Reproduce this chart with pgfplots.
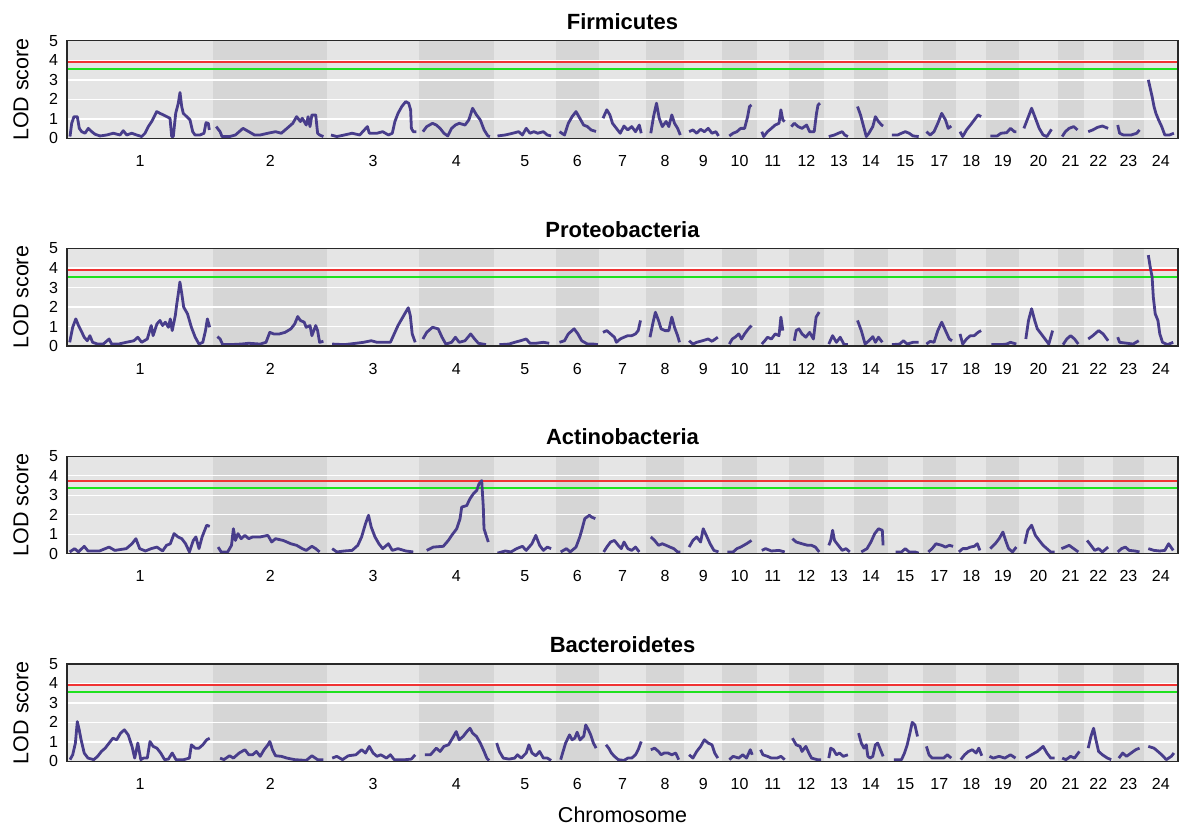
\documentclass[border=0pt]{standalone}
\usepackage{fontspec}
\setmainfont{Liberation Sans}
\usepackage{pgfplots}
\usepackage{pgfplotstable}
\pgfplotsset{compat=1.18}

\definecolor{bglight}{RGB}{229,229,229}
\definecolor{bgdark}{RGB}{214,214,214}
\definecolor{lodcol}{RGB}{72,61,139}
\definecolor{thrred}{RGB}{240,50,50}
\definecolor{thrgreen}{RGB}{30,225,30}
\definecolor{framecol}{RGB}{40,40,40}

% x positions are in the chart's own map units (chromosomes laid side by side)
\pgfplotstableread{
x y
70.0 0.09
71.7 0.77
74.0 1.11
77.3 1.11
79.3 0.51
81.7 0.34
85.0 0.26
88.3 0.51
91.7 0.34
95.0 0.21
100.0 0.12
106.7 0.17
113.3 0.26
120.0 0.17
123.3 0.39
126.7 0.17
131.7 0.26
136.7 0.17
141.7 0.09
145.0 0.26
148.3 0.60
151.7 0.86
155.0 1.20
156.7 1.37
160.0 1.28
163.3 1.20
166.7 1.11
170.0 1.03
171.7 0.09
173.3 0.09
175.7 1.28
178.3 1.80
180.0 2.35
181.7 1.63
183.3 1.28
186.7 1.11
190.0 0.94
192.7 0.34
195.0 0.17
200.0 0.17
204.0 0.26
206.0 0.80
208.3 0.77
209.3 0.43
nan nan
216.2 0.60
220.1 0.34
222.0 0.09
229.6 0.09
235.4 0.17
243.0 0.51
248.8 0.34
254.5 0.17
260.2 0.17
267.9 0.26
275.5 0.34
281.3 0.26
287.0 0.51
292.8 0.77
296.6 1.11
300.4 0.86
302.3 1.03
306.2 0.68
308.1 1.11
310.0 0.60
311.9 1.20
315.7 1.20
317.6 0.26
319.6 0.17
323.4 0.09
nan nan
331.0 0.17
336.8 0.09
344.4 0.17
352.1 0.26
359.7 0.17
367.4 0.60
369.3 0.26
377.0 0.26
382.7 0.34
388.4 0.17
392.3 0.26
394.9 0.86
398.0 1.28
401.8 1.63
405.7 1.88
408.7 1.80
410.6 1.46
411.4 0.51
413.3 0.34
416.4 0.34
nan nan
422.9 0.34
426.7 0.60
432.5 0.77
436.3 0.68
440.1 0.51
443.9 0.26
447.8 0.12
451.6 0.51
455.4 0.68
459.2 0.77
465.0 0.68
468.8 0.94
472.6 1.54
476.5 1.20
480.3 0.94
484.1 0.43
487.9 0.12
489.9 0.09
nan nan
497.5 0.12
505.2 0.17
512.8 0.26
518.6 0.34
522.4 0.17
526.2 0.51
530.0 0.26
533.9 0.34
537.7 0.26
543.4 0.34
547.3 0.17
551.1 0.12
nan nan
559.5 0.34
564.5 0.17
568.3 0.77
572.1 1.11
576.0 1.37
579.8 1.03
583.6 0.68
587.5 0.60
591.0 0.43
596.0 0.35
nan nan
603.0 1.03
606.8 1.46
609.9 1.20
612.5 0.77
616.4 0.51
620.2 0.26
624.0 0.63
627.8 0.43
631.7 0.60
635.5 0.34
639.3 0.68
641.2 0.26
nan nan
650.8 0.26
653.5 1.11
656.5 1.80
659.2 1.03
662.3 0.60
666.1 0.86
668.8 0.60
671.8 1.20
674.5 0.77
677.6 0.51
680.3 0.17
nan nan
689.1 0.34
692.9 0.43
696.7 0.26
700.6 0.46
704.4 0.34
708.2 0.51
712.0 0.26
715.9 0.34
718.5 0.12
nan nan
729.3 0.12
733.1 0.26
736.9 0.34
740.7 0.51
744.6 0.51
747.6 1.11
749.5 1.63
751.5 1.71
nan nan
761.8 0.34
763.7 0.09
767.5 0.34
771.4 0.51
775.2 0.68
779.0 0.77
780.9 1.46
782.8 0.94
784.7 0.86
nan nan
791.3 0.60
794.3 0.77
798.1 0.60
802.0 0.51
806.6 0.68
809.6 0.34
814.2 0.34
816.5 1.28
818.0 1.71
820.0 1.80
nan nan
828.8 0.09
834.5 0.17
838.3 0.26
842.2 0.34
844.8 0.17
847.9 0.09
nan nan
857.5 1.63
860.5 1.20
863.2 0.68
866.3 0.09
868.9 0.26
872.8 0.60
875.4 1.11
878.5 0.86
881.6 0.68
883.1 0.63
nan nan
891.9 0.17
897.6 0.17
901.5 0.26
905.3 0.34
909.1 0.26
913.0 0.12
918.7 0.09
nan nan
926.4 0.34
930.2 0.17
934.0 0.34
937.8 0.77
941.7 1.28
945.5 0.94
948.2 0.51
951.2 0.63
nan nan
960.0 0.34
962.7 0.09
966.5 0.43
970.4 0.68
974.2 0.94
978.0 1.20
981.1 1.11
nan nan
990.3 0.12
997.1 0.12
1001.0 0.26
1006.7 0.29
1010.5 0.51
1014.4 0.34
1016.3 0.34
nan nan
1023.9 0.51
1027.8 1.03
1031.6 1.54
1035.4 1.03
1039.2 0.51
1043.1 0.17
1046.9 0.09
1051.5 0.46
nan nan
1062.2 0.09
1065.3 0.34
1069.1 0.51
1073.7 0.60
1077.5 0.43
nan nan
1088.2 0.34
1092.8 0.43
1097.4 0.56
1102.4 0.63
1108.1 0.51
nan nan
1117.7 0.68
1119.6 0.26
1123.4 0.17
1131.1 0.17
1136.8 0.26
1139.5 0.43
nan nan
1148.3 3.00
1150.2 2.57
1152.1 2.14
1154.0 1.63
1155.9 1.28
1158.6 0.94
1161.7 0.60
1164.8 0.17
1169.4 0.17
1173.9 0.26
}\firm

\pgfplotstableread{
x y
69.7 0.19
72.7 0.96
75.8 1.39
78.5 1.05
81.1 0.79
84.2 0.45
87.3 0.27
89.9 0.53
92.6 0.19
97.6 0.10
103.3 0.10
109.1 0.36
111.7 0.10
118.6 0.10
126.3 0.19
133.9 0.27
137.8 0.45
141.6 0.19
147.3 0.36
151.2 1.05
153.1 0.53
156.9 1.13
160.0 1.31
162.6 1.05
165.3 1.22
168.4 0.96
170.3 1.39
172.2 0.79
175.3 1.56
176.8 2.16
178.3 2.68
179.9 3.28
181.8 2.68
183.7 1.99
187.5 1.65
191.4 0.96
195.2 0.45
199.0 0.10
202.8 0.19
205.5 0.79
207.4 1.39
209.7 0.96
nan nan
217.4 0.48
220.1 0.36
222.7 0.07
229.6 0.07
241.1 0.10
248.8 0.14
260.2 0.10
266.0 0.19
269.8 0.70
273.6 0.62
279.4 0.62
285.1 0.70
290.9 0.88
294.7 1.13
297.7 1.51
300.4 1.31
304.2 1.22
306.2 0.96
310.0 1.05
311.9 0.53
315.7 1.05
317.6 0.79
319.6 0.19
323.4 0.24
nan nan
332.2 0.10
344.4 0.07
355.9 0.14
363.6 0.19
371.2 0.27
377.0 0.19
382.7 0.19
390.4 0.19
394.2 0.62
398.0 1.05
401.8 1.39
405.7 1.74
408.3 1.96
410.3 1.56
412.2 0.62
415.2 0.19
nan nan
422.9 0.36
426.7 0.70
432.5 0.96
438.2 0.88
442.0 0.45
445.8 0.10
451.6 0.19
455.4 0.45
459.2 0.19
465.0 0.27
470.7 0.62
474.6 0.36
478.4 0.14
486.0 0.07
nan nan
499.4 0.07
509.0 0.10
514.7 0.19
520.5 0.27
526.2 0.36
530.0 0.14
535.8 0.14
543.4 0.19
549.2 0.14
nan nan
559.5 0.19
564.5 0.27
568.3 0.62
574.1 0.88
577.9 0.62
581.7 0.27
587.5 0.10
593.2 0.10
597.8 0.07
nan nan
603.0 0.70
606.8 0.79
610.6 0.62
614.4 0.45
616.4 0.19
620.2 0.36
624.0 0.45
627.8 0.53
631.7 0.53
635.5 0.62
638.2 0.79
640.5 1.31
nan nan
650.0 0.45
652.7 1.13
655.4 1.73
658.5 1.31
661.1 0.88
665.0 0.79
668.8 0.79
671.8 1.48
674.5 0.96
677.6 0.53
679.5 0.19
nan nan
689.1 0.27
692.9 0.10
696.7 0.19
702.5 0.27
708.2 0.36
712.0 0.24
717.8 0.45
nan nan
729.3 0.10
732.3 0.36
735.0 0.45
738.8 0.62
741.5 0.36
744.6 0.62
748.4 0.88
751.5 1.05
nan nan
761.8 0.10
764.8 0.27
767.5 0.45
771.4 0.36
775.2 0.62
779.0 0.53
780.9 1.48
782.8 0.79
nan nan
794.3 0.27
796.2 0.79
798.9 0.88
802.0 0.62
805.8 0.45
809.6 0.70
813.4 0.36
816.1 1.48
819.2 1.74
nan nan
828.8 0.10
832.6 0.53
836.4 0.19
840.2 0.45
844.1 0.07
847.9 0.07
nan nan
857.5 1.31
861.3 0.79
865.1 0.10
868.9 0.27
872.8 0.48
875.4 0.19
878.5 0.45
882.3 0.19
nan nan
891.9 0.07
899.6 0.10
903.4 0.27
907.2 0.10
913.0 0.19
918.7 0.19
nan nan
926.4 0.10
930.2 0.24
934.0 0.19
937.8 0.79
941.7 1.22
945.5 0.79
949.3 0.36
952.0 0.27
nan nan
960.0 0.62
962.7 0.10
966.5 0.36
970.4 0.53
974.2 0.53
978.0 0.70
981.1 0.79
nan nan
991.4 0.07
1001.0 0.07
1006.7 0.10
1010.5 0.19
1016.3 0.10
nan nan
1025.8 0.36
1028.5 1.31
1031.6 1.91
1034.7 1.31
1037.3 0.88
1041.2 0.62
1045.0 0.36
1048.8 0.10
1052.6 0.79
nan nan
1063.0 0.07
1066.8 0.36
1070.6 0.53
1074.5 0.36
1078.3 0.10
nan nan
1088.2 0.36
1092.8 0.53
1098.6 0.79
1103.1 0.62
1108.1 0.27
nan nan
1117.7 0.45
1119.6 0.19
1127.3 0.14
1133.0 0.10
1138.7 0.27
nan nan
1148.3 4.66
1150.2 4.05
1152.1 3.54
1153.3 2.51
1155.2 1.65
1157.9 1.31
1159.8 0.62
1162.5 0.19
1167.5 0.07
1173.2 0.19
}\proteo

\pgfplotstableread{
x y
69.7 0.09
74.6 0.26
78.5 0.09
84.2 0.38
88.0 0.14
99.5 0.14
109.1 0.34
114.8 0.17
126.3 0.26
132.0 0.51
135.9 0.77
139.7 0.26
145.4 0.14
151.2 0.26
156.9 0.34
162.6 0.14
166.5 0.43
170.3 0.51
174.1 1.03
178.0 0.86
181.8 0.77
185.6 0.51
189.4 0.09
193.3 0.68
195.9 0.86
199.0 0.26
202.1 0.86
204.7 1.20
206.7 1.46
209.7 1.40
nan nan
218.1 0.34
221.2 0.09
227.7 0.09
231.5 0.43
233.4 1.28
235.4 0.68
238.0 1.03
241.1 0.77
244.9 0.94
248.8 0.77
252.6 0.86
260.2 0.86
267.9 0.94
271.7 0.60
275.5 0.77
283.2 0.68
290.9 0.51
296.6 0.43
302.3 0.26
306.2 0.17
311.9 0.38
315.7 0.26
319.6 0.09
nan nan
332.2 0.26
336.8 0.09
344.4 0.14
352.1 0.17
357.8 0.43
361.6 0.86
365.5 1.54
368.5 1.97
371.2 1.37
375.0 0.86
378.9 0.51
382.7 0.26
388.4 0.51
392.3 0.17
398.0 0.26
405.7 0.14
413.3 0.09
nan nan
426.7 0.17
433.3 0.34
443.3 0.38
448.3 0.68
451.7 0.94
456.7 1.28
460.0 1.79
461.7 2.39
466.7 2.47
470.0 2.82
473.3 3.07
476.7 3.24
479.0 3.58
481.7 3.75
483.3 2.39
484.0 1.28
486.7 0.85
488.3 0.60
nan nan
497.5 0.03
505.2 0.14
510.9 0.09
516.6 0.26
522.4 0.38
526.2 0.17
531.9 0.51
535.8 0.94
539.6 0.43
543.4 0.17
547.3 0.34
551.1 0.26
nan nan
560.7 0.09
566.4 0.26
570.2 0.09
576.0 0.34
579.8 0.86
581.7 1.20
584.8 1.80
589.4 1.97
591.5 1.88
595.3 1.80
nan nan
603.7 0.09
606.8 0.34
610.6 0.60
614.4 0.68
618.3 0.43
621.3 0.26
624.0 0.60
627.8 0.26
631.7 0.17
635.5 0.34
639.3 0.09
nan nan
650.8 0.86
654.6 0.68
658.5 0.43
662.3 0.51
666.1 0.43
670.0 0.34
673.8 0.26
677.6 0.09
680.3 0.09
nan nan
689.1 0.34
692.9 0.68
696.7 0.86
700.6 0.60
703.2 1.28
706.3 0.94
710.1 0.51
713.9 0.17
718.5 0.09
nan nan
727.3 0.09
733.1 0.09
736.9 0.26
740.7 0.34
746.5 0.51
751.5 0.68
nan nan
761.8 0.17
765.6 0.26
771.4 0.14
779.0 0.17
784.7 0.09
nan nan
792.4 0.77
796.2 0.60
802.0 0.51
807.7 0.43
811.5 0.43
815.4 0.34
819.2 0.09
nan nan
828.8 0.43
830.7 0.68
832.6 1.20
834.5 0.68
838.3 0.43
842.2 0.17
846.0 0.26
849.8 0.09
nan nan
861.3 0.09
867.0 0.26
870.9 0.60
874.7 1.03
878.5 1.28
882.3 1.20
883.1 0.43
nan nan
895.7 0.09
901.5 0.09
905.3 0.26
909.1 0.09
914.9 0.09
918.7 0.03
nan nan
928.3 0.09
932.1 0.26
935.9 0.51
941.7 0.43
945.5 0.34
949.3 0.43
953.1 0.38
nan nan
958.9 0.09
962.7 0.26
966.5 0.26
970.4 0.34
974.2 0.38
977.3 0.51
979.9 0.17
nan nan
990.3 0.26
995.2 0.51
999.1 0.77
1002.9 1.11
1005.6 0.68
1008.6 0.26
1012.5 0.09
1016.3 0.34
nan nan
1024.7 0.51
1027.8 1.20
1031.6 1.46
1035.4 0.94
1039.2 0.68
1043.1 0.43
1046.9 0.26
1050.7 0.09
1054.6 0.09
nan nan
1061.4 0.26
1065.3 0.34
1069.1 0.43
1073.7 0.26
1078.3 0.09
nan nan
1087.1 0.68
1090.9 0.43
1094.7 0.17
1098.6 0.26
1102.4 0.09
1108.1 0.34
nan nan
1117.7 0.09
1121.5 0.26
1125.4 0.34
1129.2 0.17
1134.9 0.14
1139.5 0.09
nan nan
1148.3 0.26
1154.0 0.17
1159.8 0.14
1164.8 0.17
1168.6 0.51
1173.2 0.17
}\actino

\pgfplotstableread{
x y
70.0 0.09
72.7 0.34
75.4 0.94
77.3 2.04
79.2 1.62
81.1 1.11
84.2 0.43
88.0 0.17
93.8 0.09
97.6 0.26
101.4 0.51
105.2 0.68
109.1 0.94
112.9 1.19
116.7 1.11
120.6 1.45
124.4 1.62
128.2 1.36
132.0 0.77
134.7 0.17
137.8 0.94
140.8 0.09
143.5 0.17
147.3 0.17
150.0 1.02
153.1 0.77
156.9 0.68
160.7 0.43
164.6 0.09
168.4 0.12
172.2 0.43
176.0 0.09
183.7 0.09
189.4 0.17
191.4 0.85
195.2 0.68
199.0 0.68
202.8 0.85
206.7 1.11
209.7 1.19
nan nan
220.1 0.17
223.9 0.09
229.6 0.29
233.4 0.17
239.2 0.43
244.9 0.60
248.8 0.34
252.6 0.34
256.4 0.51
260.2 0.26
264.1 0.60
267.9 0.85
269.8 1.02
272.5 0.60
275.5 0.29
281.3 0.26
287.0 0.17
294.7 0.09
306.2 0.05
311.9 0.29
317.6 0.09
323.4 0.09
nan nan
332.2 0.17
336.8 0.26
342.5 0.09
348.3 0.29
355.9 0.34
361.6 0.60
365.5 0.43
369.3 0.77
373.1 0.43
377.0 0.26
380.8 0.34
386.5 0.17
390.4 0.34
394.2 0.09
405.7 0.09
411.4 0.12
415.2 0.34
nan nan
424.8 0.34
430.5 0.34
436.3 0.68
440.1 0.51
443.9 0.77
448.5 0.85
453.5 1.28
456.2 1.53
459.2 1.11
463.1 1.28
466.9 1.53
470.0 1.70
472.6 1.45
476.5 1.28
480.3 0.94
484.1 0.51
486.8 0.17
489.1 0.05
nan nan
496.7 0.94
499.4 0.51
503.3 0.17
509.0 0.12
514.7 0.17
517.4 0.34
521.2 0.17
526.2 0.43
528.9 0.85
532.0 0.43
535.8 0.29
539.6 0.51
543.4 0.17
547.3 0.17
551.1 0.05
nan nan
560.7 0.09
562.6 0.43
565.6 0.94
569.5 1.36
572.1 1.11
574.8 1.19
577.1 1.50
580.0 1.10
583.8 1.30
585.7 1.87
588.4 1.62
590.7 1.36
593.4 0.94
596.1 0.68
nan nan
606.0 0.85
608.7 0.68
611.4 0.43
614.4 0.26
618.3 0.09
624.0 0.05
627.8 0.17
631.7 0.17
635.5 0.34
638.2 0.60
641.2 1.02
nan nan
650.8 0.60
654.6 0.68
658.5 0.51
661.1 0.34
664.2 0.43
668.0 0.43
671.8 0.34
675.7 0.43
678.7 0.09
nan nan
689.1 0.34
692.9 0.17
696.7 0.51
700.6 0.77
704.4 1.11
708.2 0.94
712.0 0.85
714.7 0.43
717.8 0.17
nan nan
729.3 0.09
733.1 0.26
738.8 0.17
742.7 0.34
746.5 0.17
750.3 0.60
752.2 0.34
nan nan
760.6 0.60
762.9 0.34
767.5 0.26
771.4 0.17
777.1 0.17
780.9 0.26
784.7 0.09
nan nan
792.4 1.19
796.2 0.85
800.1 0.77
802.0 0.51
805.8 0.77
808.9 0.43
811.5 0.17
817.3 0.09
821.1 0.09
nan nan
828.8 0.17
830.7 0.68
833.4 0.60
836.4 0.34
839.5 0.43
843.3 0.26
847.9 0.34
nan nan
858.6 1.45
861.3 0.94
864.0 0.68
866.3 0.85
867.8 0.26
870.1 0.17
872.8 0.26
875.4 0.85
877.7 0.94
880.4 0.60
883.1 0.26
nan nan
893.8 0.09
901.5 0.09
904.5 0.43
907.2 0.85
909.9 1.45
912.2 2.00
914.9 1.87
917.5 1.28
nan nan
926.4 0.77
929.0 0.34
932.1 0.17
937.8 0.17
943.6 0.17
947.4 0.34
951.2 0.17
nan nan
960.8 0.09
964.6 0.34
968.4 0.51
972.3 0.60
976.1 0.43
978.8 0.68
981.8 0.29
nan nan
989.5 0.26
993.3 0.17
999.1 0.26
1004.8 0.17
1010.5 0.34
1015.5 0.17
nan nan
1025.8 0.17
1031.6 0.34
1037.3 0.51
1043.1 0.77
1046.9 0.43
1050.7 0.17
1054.6 0.17
nan nan
1062.2 0.17
1066.0 0.09
1070.6 0.26
1074.5 0.17
1079.4 0.51
nan nan
1088.2 0.68
1090.9 1.28
1093.6 1.70
1095.9 1.11
1098.6 0.51
1102.4 0.34
1107.4 0.17
1111.2 0.09
nan nan
1118.8 0.17
1122.7 0.43
1126.5 0.26
1131.1 0.43
1135.7 0.60
1139.5 0.68
nan nan
1148.3 0.77
1154.0 0.68
1157.9 0.51
1161.7 0.34
1166.3 0.09
1171.3 0.26
1173.9 0.43
}\bactero

\newcommand{\bgrects}{%
  \fill[bgdark] (axis cs:213.2,0) rectangle (axis cs:327.2,5);
  \fill[bgdark] (axis cs:419.1,0) rectangle (axis cs:493.7,5);
  \fill[bgdark] (axis cs:555.7,0) rectangle (axis cs:599.1,5);
  \fill[bgdark] (axis cs:645.8,0) rectangle (axis cs:684.1,5);
  \fill[bgdark] (axis cs:722.4,0) rectangle (axis cs:756.8,5);
  \fill[bgdark] (axis cs:788.6,0) rectangle (axis cs:824.2,5);
  \fill[bgdark] (axis cs:853.6,0) rectangle (axis cs:888.1,5);
  \fill[bgdark] (axis cs:922.5,0) rectangle (axis cs:956.2,5);
  \fill[bgdark] (axis cs:986.4,0) rectangle (axis cs:1019.3,5);
  \fill[bgdark] (axis cs:1057.6,0) rectangle (axis cs:1083.6,5);
  \fill[bgdark] (axis cs:1113.1,0) rectangle (axis cs:1143.7,5);
  \draw[white, line width=1.4bp] (axis cs:67,1) -- (axis cs:1178,1);
  \draw[white, line width=1.4bp] (axis cs:67,2) -- (axis cs:1178,2);
  \draw[white, line width=1.4bp] (axis cs:67,3) -- (axis cs:1178,3);
  \draw[white, line width=1.4bp] (axis cs:67,4) -- (axis cs:1178,4);
}

\pgfplotsset{
  lodaxis/.style={
    scale only axis, width=1111bp, height=97.5bp,
    xmin=67, xmax=1178, ymin=0, ymax=5,
    axis background/.style={fill=bglight},
    axis on top,
    axis line style={draw=framecol, line width=1.3bp},
    major tick length=0pt,
    ytick={0,1,2,3,4,5}, yticklabels={0,1,2,3,4,5},
    xtick={140.1,270.2,373.15,456.4,524.7,577.4,622.45,664.95,703.25,739.6,772.7,806.4,838.9,870.85,905.3,939.35,971.3,1002.85,1038.45,1070.6,1098.35,1128.4,1160.85},
    xticklabels={1,2,3,4,5,6,7,8,9,10,11,12,13,14,15,17,18,19,20,21,22,23,24},
    tick label style={font=\fontsize{16bp}{19bp}\selectfont},
    yticklabel style={anchor=east, xshift=-5.5bp},
    xticklabel style={anchor=north, yshift=-13.5bp},
    ylabel={LOD score},
    ylabel style={at={(axis description cs:-0.0414,0.5)}, anchor=center},
    label style={font=\fontsize{21.5bp}{25bp}\selectfont},
    title style={at={(axis description cs:0.5,1.055)}, anchor=base, font=\bfseries\fontsize{22bp}{26bp}\selectfont},
    unbounded coords=jump,
    clip=true,
  },
  lodline/.style={lodcol, line width=2.8bp, line join=round, no markers},
  redline/.style={thrred, line width=2bp, no markers},
  greenline/.style={thrgreen, line width=2bp, no markers},
}

\begin{document}
\begin{tikzpicture}
\path[use as bounding box] (0,0) rectangle (1180bp,-827bp);

\begin{axis}[lodaxis, at={(67bp,-138.3bp)}, anchor=south west, title={Firmicutes}]
  \bgrects
  \addplot[redline] coordinates {(67,3.93) (1178,3.93)};
  \addplot[greenline] coordinates {(67,3.57) (1178,3.57)};
  \addplot[lodline] table[x=x, y=y] {\firm};
\end{axis}

\begin{axis}[lodaxis, at={(67bp,-346bp)}, anchor=south west, title={Proteobacteria}]
  \bgrects
  \addplot[redline] coordinates {(67,3.92) (1178,3.92)};
  \addplot[greenline] coordinates {(67,3.56) (1178,3.56)};
  \addplot[lodline] table[x=x, y=y] {\proteo};
\end{axis}

\begin{axis}[lodaxis, at={(67bp,-553.7bp)}, anchor=south west, title={Actinobacteria}]
  \bgrects
  \addplot[redline] coordinates {(67,3.73) (1178,3.73)};
  \addplot[greenline] coordinates {(67,3.37) (1178,3.37)};
  \addplot[lodline] table[x=x, y=y] {\actino};
\end{axis}

\begin{axis}[lodaxis, at={(67bp,-761.4bp)}, anchor=south west, title={Bacteroidetes},
  xlabel={Chromosome},
  xlabel style={at={(axis description cs:0.5,-0.631)}, anchor=base}]
  \bgrects
  \addplot[redline] coordinates {(67,3.91) (1178,3.91)};
  \addplot[greenline] coordinates {(67,3.57) (1178,3.57)};
  \addplot[lodline] table[x=x, y=y] {\bactero};
\end{axis}
\end{tikzpicture}
\end{document}
